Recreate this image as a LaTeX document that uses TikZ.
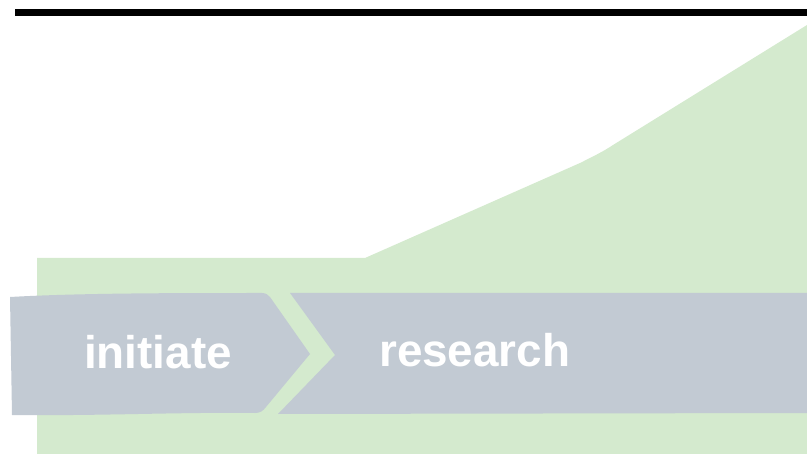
\documentclass[tikz,border=0pt]{standalone}
\usepackage{fontspec}
\setmainfont{Liberation Sans}
\definecolor{bggreen}{RGB}{212,234,206}
\definecolor{stepgray}{RGB}{194,202,211}
\begin{document}
\begin{tikzpicture}[x=1bp,y=-1bp,
  steplabel/.style={anchor=base west,inner sep=0pt,text=white,font=\fontsize{46}{50}\selectfont\bfseries}]
\useasboundingbox (0,0) rectangle (807,454);
% top rule
\fill[black] (15,9.5) rectangle (807,16.5);
% green area
\fill[bggreen] (37,258) -- (365,258) -- (580,163) .. controls (596,155) and (604,151) .. (613,145) -- (807,25) -- (807,454) -- (37,454) -- cycle;
% initiate chevron
\fill[stepgray] (10,297) .. controls (80,293) and (180,293) .. (262,293)
  .. controls (266,293) and (268,295) .. (270,297) -- (310,354) -- (266,407)
  .. controls (263,411) and (260,413) .. (255,413)
  .. controls (180,412) and (100,416) .. (12,415) -- cycle;
% research chevron
\fill[stepgray] (290,293) -- (807,293) -- (807,413) -- (278,414) -- (335,355) -- cycle;
\node[steplabel] (initiate) at (84,369) {initiate};
\node[steplabel] (research) at (379,367) {research};
\end{tikzpicture}
\end{document}
